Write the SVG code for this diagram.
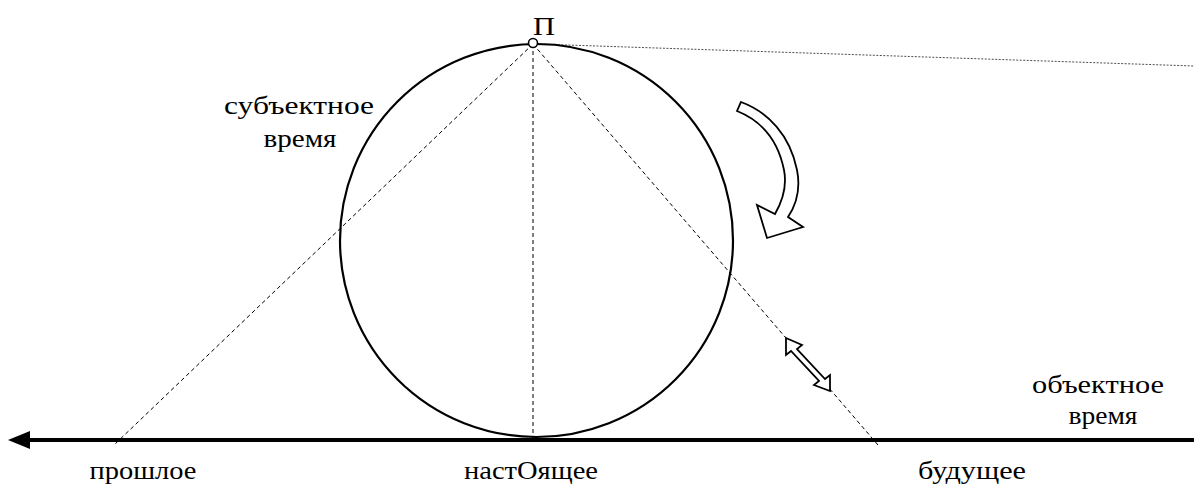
<svg xmlns="http://www.w3.org/2000/svg" width="1194" height="492" viewBox="0 0 1194 492">
<style>
.t{font-family:'Liberation Serif','Times New Roman','DejaVu Serif',serif;font-size:25px;fill:#000;text-anchor:middle}
.dash{stroke:#000;stroke-width:1;stroke-dasharray:4,3;fill:none}
.out{fill:#fff;stroke:#000;stroke-width:1.8;stroke-linejoin:miter}
</style>
<rect width="1194" height="492" fill="#fff"/>
<g id="connectors">
<line class="dash" x1="533" y1="44" x2="533" y2="438"/>
<line class="dash" x1="533" y1="44" x2="114" y2="445"/>
<line class="dash" x1="533" y1="44" x2="878" y2="445"/>
<line x1="537" y1="44" x2="1194" y2="66" stroke="#000" stroke-width="0.7" stroke-dasharray="2,1.5"/>
<line x1="26" y1="440" x2="1194" y2="440" stroke="#000" stroke-width="4"/>
<polygon points="8,440 30,431 30,449" fill="#000"/>
</g>
<g id="circle">
<circle cx="536.5" cy="240.5" r="196.5" fill="none" stroke="#000" stroke-width="2.2"/>
</g>
<g id="P">
<circle cx="533" cy="43" r="4.5" fill="#fff" stroke="#000" stroke-width="1.6"/>
<text class="t" x="544" y="35" font-size="28" textLength="22" lengthAdjust="spacingAndGlyphs">П</text>
</g>
<g id="rotation-arrow">
<path class="out" d="M741,102 C768,112 790,135 797,170 C801,190 796,205 788,217 L803,227 L767,238 L757,205 L775,214 C783,200 787,185 784,170 C778,140 762,121 737,111 Z"/>
</g>
<g id="double-arrow">
<path class="out" d="M786,338 L802,345 L797,349 L825,379 L830,375 L830,391 L814,385 L819,381 L791,351 L786,355 Z"/>
</g>
<g id="labels">
<text class="t" x="299" y="114" textLength="150" lengthAdjust="spacingAndGlyphs">субъектное</text>
<text class="t" x="300" y="147" textLength="73" lengthAdjust="spacingAndGlyphs">время</text>
<text class="t" x="1098" y="393" textLength="132" lengthAdjust="spacingAndGlyphs">объектное</text>
<text class="t" x="1103" y="424" textLength="69" lengthAdjust="spacingAndGlyphs">время</text>
<text class="t" x="143" y="479" textLength="107" lengthAdjust="spacingAndGlyphs">прошлое</text>
<text class="t" x="531" y="479" textLength="134" lengthAdjust="spacingAndGlyphs">настОящее</text>
<text class="t" x="972" y="479" textLength="108" lengthAdjust="spacingAndGlyphs">будущее</text>
</g>
</svg>
